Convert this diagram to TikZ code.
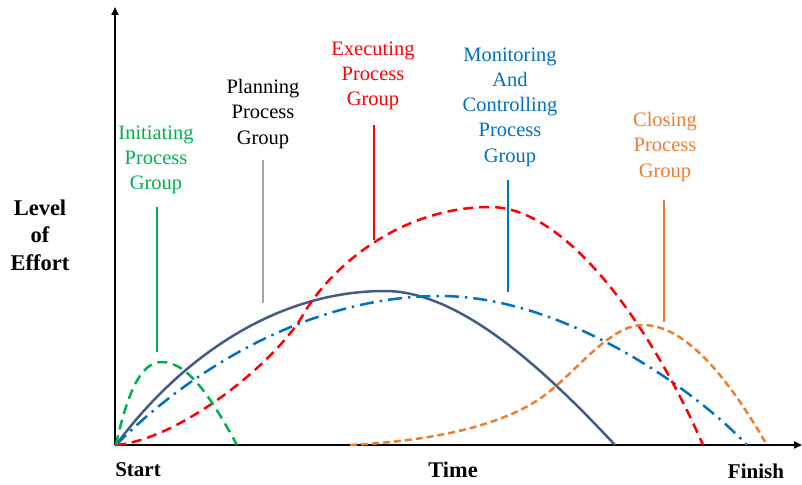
\documentclass[tikz,border=0pt]{standalone}
\usepackage{fontspec}
\setmainfont{Liberation Serif}
\usetikzlibrary{arrows.meta}
\definecolor{cgreen}{RGB}{0,176,80}
\definecolor{cred}{RGB}{255,0,0}
\definecolor{cblue}{RGB}{0,112,192}
\definecolor{corange}{RGB}{237,125,49}
\definecolor{cslate}{RGB}{68,90,135}
\definecolor{cgray}{RGB}{166,166,166}
\begin{document}
\begin{tikzpicture}[x=1pt,y=-1pt,
  lbl/.style={align=center,font=\fontsize{20.5}{25.2}\selectfont,inner sep=0pt},
  axlbl/.style={font=\fontsize{21}{27}\selectfont\bfseries,inner sep=0pt},
  axisline/.style={line width=2.6pt,-{Triangle[length=8pt,width=7pt]}},
  marker/.style={line width=2.5pt},
  crv/.style={line width=2.5pt},
  dashA/.style={dash pattern=on 10pt off 6pt},
  dashB/.style={dash pattern=on 7pt off 4pt},
  dashdotA/.style={dash pattern=on 14pt off 6pt on 2.5pt off 6pt}]
\useasboundingbox (0,0) rectangle (802,484);
% axes
\coordinate (O) at (115,445);
\coordinate (ytop) at (115,7);
\coordinate (xend) at (802,445);
\draw[axisline] (O) -- (ytop);
\draw[axisline] (O) -- (xend);
% axis labels
\node[axlbl,font=\fontsize{22.5}{27.5}\selectfont\bfseries,align=center] (lvl) at (40,235) {Level\\of\\Effort};
\node[axlbl] (start) at (138,470) {Start};
\node[axlbl,font=\fontsize{22.4}{27}\selectfont\bfseries] (time) at (453,470) {Time};
\node[axlbl] (finish) at (756,471) {Finish};
% group labels
\node[lbl,text=cgreen] (init) at (156,160) {Initiating\\Process\\Group};
\node[lbl,text=black] (plan) at (263,114) {Planning\\Process\\Group};
\node[lbl,text=cred] (exec) at (373,76) {Executing\\Process\\Group};
\node[lbl,text=cblue] (mon) at (510,107) {Monitoring\\And\\Controlling\\Process\\Group};
\node[lbl,text=corange] (close) at (665,147) {Closing\\Process\\Group};
% marker lines
\coordinate (ga) at (157,207); \coordinate (gb) at (157,352);
\coordinate (pa) at (263,160); \coordinate (pb) at (263,303);
\coordinate (ea) at (374,125); \coordinate (eb) at (374,240);
\coordinate (ma) at (508,180); \coordinate (mb) at (508,292);
\coordinate (ca) at (664,200); \coordinate (cb) at (664,322);
\draw[marker,cgreen] (ga) -- (gb);
\draw[marker,cgray] (pa) -- (pb);
\draw[marker,cred] (ea) -- (eb);
\draw[marker,cblue] (ma) -- (mb);
\draw[marker,corange] (ca) -- (cb);
% curves
\draw[crv,cslate] (116,445) .. controls (175,365) and (270,291) .. (385,291)
  .. controls (460,291) and (545,370) .. (615,445);
\draw[crv,cblue,dashdotA] (116,445) .. controls (190,370) and (310,296) .. (440,296)
  .. controls (560,296) and (690,385) .. (747,445);
\draw[crv,cred,dashA] (116,445) .. controls (175,440) and (265,372) .. (300,320)
  .. controls (332,262) and (405,207) .. (490,207)
  .. controls (570,207) and (655,335) .. (703,445);
\draw[crv,corange,dashB] (350,445) .. controls (450,440) and (512,420) .. (545,395)
  .. controls (578,370) and (610,325) .. (643,325)
  .. controls (690,325) and (735,390) .. (767,445);
\draw[crv,cgreen,dashA] (116,445) .. controls (130,380) and (145,362) .. (162,362)
  .. controls (190,362) and (215,405) .. (237,445);
\end{tikzpicture}
\end{document}
